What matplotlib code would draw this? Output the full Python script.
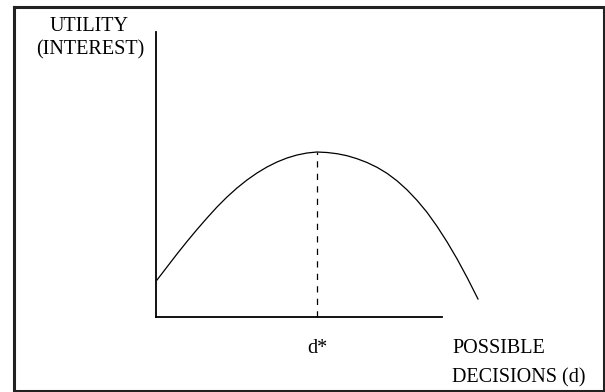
import matplotlib
matplotlib.use("Agg")
import matplotlib.pyplot as plt
from matplotlib.lines import Line2D

# --- Data (origin at the axes corner) ---
decisions = [1, 11, 21, 31, 41, 51, 61, 71, 81, 91, 101, 111, 121, 131, 141, 151, 161,
             171, 181, 191, 201, 211, 221, 231, 241, 251, 261, 271, 281, 291, 301, 311, 322]
utility = [37, 50, 63, 75.5, 87.5, 99, 110, 120, 129, 137, 144, 150, 155, 159, 162, 164, 165,
           164.5, 163.3, 161.3, 158.3, 154.5, 149.7, 143.7, 136.2, 127.2, 116.7, 104.7,
           90.7, 75.2, 58.2, 39.7, 18]
d_star = 161
u_star = 165

x_max, y_max = 286, 285

W, H = 605, 392
fig = plt.figure(figsize=(W / 100, H / 100), dpi=100)
plt.rcParams['font.family'] = ['Liberation Serif', 'DejaVu Serif']

# main axes: corner at pixel (156, 317)
ax = fig.add_axes([156 / W, (H - 317) / H, x_max / W, y_max / H])
ax.set_xlim(0, x_max)
ax.set_ylim(0, y_max)
ax.plot(decisions, utility, color='black', lw=0.9, clip_on=False, solid_joinstyle='round')
ax.plot([d_star, d_star], [0, u_star], color='black', lw=0.9, linestyle=(0, (5, 5)))
for s in ['top', 'right']:
    ax.spines[s].set_visible(False)
for s in ['left', 'bottom']:
    ax.spines[s].set_linewidth(1.3)
ax.set_xticks([])
ax.set_yticks([])
ax.patch.set_alpha(0)

# overlay in pixel coordinates for labels and the frame
ov = fig.add_axes([0, 0, 1, 1], zorder=-1)
ov.set_xlim(0, W)
ov.set_ylim(H, 0)
ov.axis('off')

fs = 14.5
ov.text(89, 31, "UTILITY", ha='center', va='baseline', fontsize=fs)
ov.text(90, 54, "(INTEREST)", ha='center', va='baseline', fontsize=fs)
ov.text(317, 353, "d*", ha='center', va='baseline', fontsize=fs)
ov.text(452, 353, "POSSIBLE", ha='left', va='baseline', fontsize=fs)
ov.text(452, 382, "DECISIONS (d)", ha='left', va='baseline', fontsize=fs)

# outer frame
fx0, fy0, fx1, fy1 = 13.5, 6.5, 603.5, 390.5
ov.add_line(Line2D([fx0, fx1, fx1, fx0, fx0], [fy0, fy0, fy1, fy1, fy0],
                   color='#222222', lw=2.2, clip_on=False))

fig.savefig("out.png", dpi=100)
